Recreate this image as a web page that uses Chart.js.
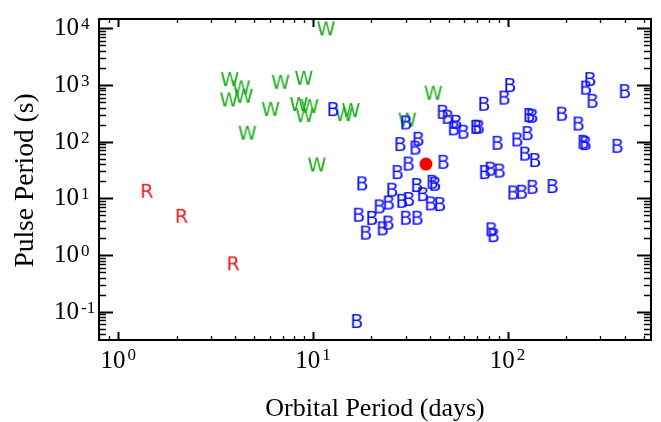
<!DOCTYPE html>
<html>
<head>
<meta charset="utf-8">
<script src="https://cdn.jsdelivr.net/npm/chart.js@4/dist/chart.umd.min.js"></script>
<style>
  html, body { margin: 0; padding: 0; background: #ffffff; }
  canvas { display: block; }
</style>
</head>
<body>
<canvas id="c" width="661" height="422"></canvas>
<script>
// ---- Data ----
// Be/X-ray binaries ("B")
const bOrbital = [12.7, 30.1, 46.4, 49.2, 54.4, 52.9, 59.3, 68.9, 71.0, 75.7,
  96.2, 102.9, 129.2, 133.8, 190.1, 231.3, 265.6, 252.5, 272.9, 400.0,
  28.1, 34.8, 33.6, 31.0, 46.8, 27.2, 88.8, 112.1, 126.6, 245.3,
  251.2, 366.6, 122.9, 138.4, 76.4, 81.7, 91.0, 17.9, 25.5, 34.2,
  41.1, 42.4, 36.7, 31.1, 28.7, 24.5, 22.0, 40.3, 44.9, 17.2,
  20.1, 30.0, 34.4, 24.4, 22.8, 18.7, 106.9, 118.3, 134.3, 170.1,
  82.5, 84.7, 16.8];
const bPulse = [376, 219, 337, 275, 224, 172, 150, 183, 183, 466,
  600, 996, 295, 286, 311, 209, 1271, 900, 526, 781,
  90.7, 112.5, 78.7, 41.1, 44.2, 29.1, 95.6, 109.8, 141.8, 99.6,
  94.5, 84.7, 61.7, 47.4, 29.1, 33.3, 30.9, 18.4, 14.2, 17.2,
  19.6, 18.1, 11.9, 9.72, 9.07, 8.43, 7.22, 8.16, 7.93, 5.14,
  4.53, 4.55, 4.55, 3.74, 2.96, 2.49, 12.7, 13.1, 16.0, 16.5,
  2.84, 2.25, 0.0685];
// Wind-fed supergiant systems ("W")
const wOrbital = [11.7, 3.74, 4.29, 6.83, 8.99, 3.71, 4.43, 6.07, 8.48, 9.62,
  9.07, 14.5, 15.7, 30.6, 41.6, 4.61, 10.5];
const wPulse = [9960, 1271, 907, 1139, 1340, 557, 645, 380, 460, 425,
  295, 307, 361, 245, 729, 144, 39.5];
// Roche-lobe overflow systems ("R")
const rOrbital = [1.40, 2.11, 3.89];
const rPulse = [13.6, 4.93, 0.714];
// Highlighted source (red dot)
const markOrbital = [38.1];
const markPulse = [40.3];

// Axis decades that carry labels
const xTickExponents = [0, 1, 2];
const yTickExponents = [-1, 0, 1, 2, 3, 4];
const xTitle = 'Orbital Period (days)';
const yTitle = 'Pulse Period (s)';

// ---- Helpers ----
function zip(xs, ys) { return xs.map((x, i) => ({ x: x, y: ys[i] })); }

function letterImage(ch, color) {
  const size = 28;
  const c = document.createElement('canvas');
  c.width = size; c.height = size;
  const g = c.getContext('2d');
  g.font = '19px "DejaVu Sans", sans-serif';
  g.fillStyle = color;
  g.textAlign = 'center';
  g.textBaseline = 'alphabetic';
  const m = g.measureText(ch);
  const asc = m.actualBoundingBoxAscent, desc = m.actualBoundingBoxDescent;
  g.fillText(ch, size / 2, size / 2 + (asc - desc) / 2);
  return c;
}

const SERIF = '"Liberation Serif", "Times New Roman", serif';

const framePlugin = {
  id: 'frame',
  afterDatasetsDraw(chart) {
    const ctx = chart.ctx;
    const a = chart.chartArea;
    const xs = chart.scales.x, ys = chart.scales.y;
    ctx.save();
    ctx.strokeStyle = '#000';
    ctx.fillStyle = '#000';

    // ticks
    const xMajor = 8, xMinor = 4, yMajor = 14, yMinor = 7;
    for (let d = -2; d <= 5; d++) {
      for (let m = 1; m <= 9; m++) {
        const v = m * Math.pow(10, d);
        if (v >= xs.min && v <= xs.max) {
          const px = Math.round(xs.getPixelForValue(v)) + 0.5;
          const L = m === 1 ? xMajor : xMinor;
          ctx.lineWidth = m === 1 ? 2 : 1.3;
          ctx.beginPath();
          ctx.moveTo(px, a.bottom); ctx.lineTo(px, a.bottom - L);
          ctx.moveTo(px, a.top); ctx.lineTo(px, a.top + L);
          ctx.stroke();
        }
        if (v >= ys.min && v <= ys.max) {
          const py = Math.round(ys.getPixelForValue(v)) + 0.5;
          const L = m === 1 ? yMajor : yMinor;
          ctx.lineWidth = m === 1 ? 2 : 1.3;
          ctx.beginPath();
          ctx.moveTo(a.left, py); ctx.lineTo(a.left + L, py);
          ctx.moveTo(a.right, py); ctx.lineTo(a.right - L, py);
          ctx.stroke();
        }
      }
    }

    // frame
    ctx.lineWidth = 2;
    ctx.strokeRect(a.left, a.top, a.right - a.left, a.bottom - a.top);

    // tick labels
    const baseFont = '25px ' + SERIF;
    const expFont = '17px ' + SERIF;
    ctx.textBaseline = 'alphabetic';
    ctx.textAlign = 'left';
    xTickExponents.forEach(e => {
      const px = xs.getPixelForValue(Math.pow(10, e));
      ctx.font = baseFont;
      const w1 = ctx.measureText('10').width;
      ctx.font = expFont;
      const es = String(e);
      const w2 = ctx.measureText(es).width;
      const start = px - (w1 + 2 + w2) / 2;
      ctx.font = baseFont;
      ctx.fillText('10', start, a.bottom + 28);
      ctx.font = expFont;
      ctx.fillText(es, start + w1 + 2, a.bottom + 20);
    });
    yTickExponents.forEach(e => {
      const py = ys.getPixelForValue(Math.pow(10, e));
      ctx.font = baseFont;
      const w1 = ctx.measureText('10').width;
      ctx.fillText('10', 79 - w1, py + 7);
      ctx.font = expFont;
      ctx.fillText(e < 0 ? '-' + Math.abs(e) : String(e), 81, py + 1);
    });

    // axis titles
    ctx.textAlign = 'center';
    ctx.font = '26px ' + SERIF;
    ctx.fillText(xTitle, (a.left + a.right) / 2, 416);
    ctx.save();
    ctx.font = '27.5px ' + SERIF;
    ctx.translate(33, (a.top + a.bottom) / 2 + 1);
    ctx.rotate(-Math.PI / 2);
    ctx.fillText(yTitle, 0, 0);
    ctx.restore();

    ctx.restore();
  }
};

new Chart(document.getElementById('c'), {
  type: 'scatter',
  data: {
    datasets: [
      { label: 'B', data: zip(bOrbital, bPulse), pointStyle: letterImage('B', '#0f0fff'), pointRadius: 9, pointHoverRadius: 9 },
      { label: 'W', data: zip(wOrbital, wPulse), pointStyle: letterImage('W', '#1caf1c'), pointRadius: 9, pointHoverRadius: 9 },
      { label: 'R', data: zip(rOrbital, rPulse), pointStyle: letterImage('R', '#e8151b'), pointRadius: 9, pointHoverRadius: 9 },
      { label: 'source', data: zip(markOrbital, markPulse), pointStyle: 'circle', pointRadius: 6.5,
        backgroundColor: '#ff0000', borderColor: '#ff0000', borderWidth: 0 }
    ]
  },
  options: {
    responsive: false,
    animation: false,
    devicePixelRatio: 1,
    layout: { padding: { left: 99, right: 9, top: 19, bottom: 82 } },
    plugins: { legend: { display: false }, tooltip: { enabled: false } },
    scales: {
      x: { type: 'logarithmic', min: 0.796, max: 546, display: false },
      y: { type: 'logarithmic', min: 0.0317, max: 14600, display: false }
    }
  },
  plugins: [framePlugin]
});
</script>
</body>
</html>
